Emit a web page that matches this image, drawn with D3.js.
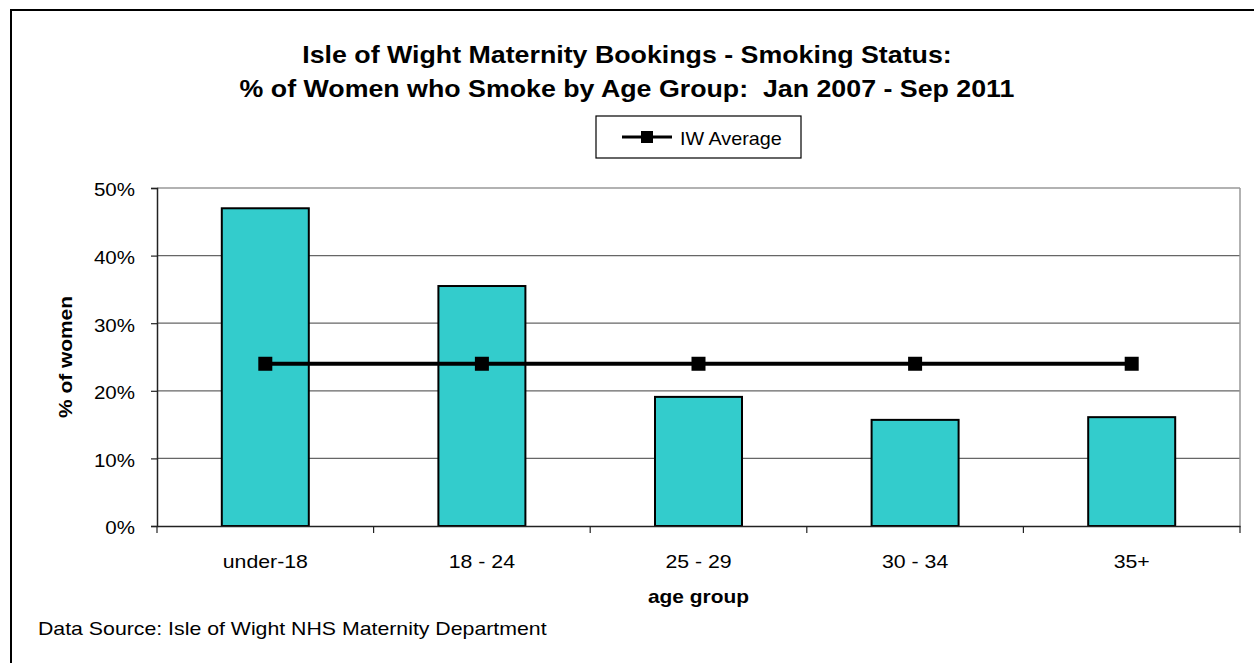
<!DOCTYPE html>
<html lang="en">
<head>
<meta charset="UTF-8">
<script src="https://d3js.org/d3.v7.min.js"></script>
<title>Isle of Wight Maternity Bookings</title>
<style>
  body { margin: 0; background: #fff; }
  svg { display: block; font-family: Arial, "Liberation Sans", sans-serif; }
</style>
</head>
<body>
<svg id="chart" width="1254" height="663"></svg>
<script>
const ageGroups = ["under-18", "18 - 24", "25 - 29", "30 - 34", "35+"];
const smokePct = [47.0, 35.5, 19.1, 15.7, 16.1];
const iwAverage = [24.0, 24.0, 24.0, 24.0, 24.0];
const yTicks = [0, 10, 20, 30, 40, 50];

const svg = d3.select("#chart");
const FONT = "Arial, 'Liberation Sans', sans-serif";

// the original export is a bit wider than normal Arial
function stretch(sel, f) {
  sel.each(function () {
    const w = this.getComputedTextLength();
    d3.select(this).attr("textLength", w * f).attr("lengthAdjust", "spacingAndGlyphs");
  });
}

// outer frame
svg.append("rect")
  .attr("x", 11).attr("y", 10)
  .attr("width", 1260).attr("height", 670)
  .attr("fill", "none").attr("stroke", "#000").attr("stroke-width", 2);

const plotL = 157, plotR = 1240, plotT = 188, plotB = 526;

const xb = d3.scaleBand().domain(ageGroups).range([plotL, plotR]);
const y = d3.scaleLinear().domain([0, 50]).range([plotB, plotT]);

// gridlines
svg.append("g").selectAll("line").data(yTicks.filter(d => d > 0)).join("line")
  .attr("x1", plotL).attr("x2", plotR)
  .attr("y1", d => y(d)).attr("y2", d => y(d))
  .attr("stroke", "#666").attr("stroke-width", 1.2);

// right border of plot
svg.append("line").attr("x1", plotR).attr("x2", plotR).attr("y1", plotT).attr("y2", plotB)
  .attr("stroke", "#999").attr("stroke-width", 1.5);

// bars
svg.append("g").selectAll("rect").data(smokePct).join("rect")
  .attr("x", (d, i) => xb(ageGroups[i]) + (xb.bandwidth() - 87) / 2)
  .attr("width", 87)
  .attr("y", d => y(d))
  .attr("height", d => y(0) - y(d))
  .attr("fill", "#33CCCC")
  .attr("stroke", "#000").attr("stroke-width", 2);

// y axis
const yAxis = svg.append("g")
  .attr("transform", `translate(${plotL},0)`)
  .call(d3.axisLeft(y).tickValues(yTicks).tickFormat(d => d + "%").tickSize(6).tickPadding(16));
yAxis.select(".domain").attr("stroke", "#222").attr("stroke-width", 1.5);
yAxis.selectAll(".tick line").attr("stroke", "#222").attr("stroke-width", 1.2);
yAxis.selectAll("text").attr("font-size", 19).attr("fill", "#000")
  .attr("font-family", FONT).attr("dy", "0.42em").call(stretch, 1.08);

// x axis
const xAxis = svg.append("g")
  .attr("transform", `translate(0,${plotB})`)
  .call(d3.axisBottom(xb).tickSize(0).tickPadding(0));
xAxis.select(".domain").attr("stroke", "#222").attr("stroke-width", 1.5);
xAxis.selectAll("text").attr("font-size", 19).attr("fill", "#000")
  .attr("font-family", FONT).attr("y", 42).attr("dy", null).call(stretch, 1.12);
// category separator ticks
svg.append("g").selectAll("line")
  .data(ageGroups.map(g => xb(g)).concat([plotR]))
  .join("line")
  .attr("x1", d => d).attr("x2", d => d)
  .attr("y1", plotB).attr("y2", plotB + 7)
  .attr("stroke", "#222").attr("stroke-width", 1.2);

// average line
const line = d3.line()
  .x((d, i) => xb(ageGroups[i]) + xb.bandwidth() / 2)
  .y(d => y(d));
svg.append("path").datum(iwAverage)
  .attr("d", line).attr("fill", "none")
  .attr("stroke", "#000").attr("stroke-width", 4);
svg.append("g").selectAll("rect").data(iwAverage).join("rect")
  .attr("x", (d, i) => xb(ageGroups[i]) + xb.bandwidth() / 2 - 7)
  .attr("y", d => y(d) - 7)
  .attr("width", 14).attr("height", 14)
  .attr("fill", "#000");

// titles
svg.append("text").attr("x", 627).attr("y", 63).attr("text-anchor", "middle")
  .attr("font-size", 24).attr("font-weight", "bold")
  .text("Isle of Wight Maternity Bookings - Smoking Status:")
  .call(stretch, 1.115);
svg.append("text").attr("x", 627).attr("y", 97).attr("text-anchor", "middle")
  .attr("font-size", 24).attr("font-weight", "bold")
  .style("white-space", "pre")
  .text("% of Women who Smoke by Age Group:  Jan 2007 - Sep 2011")
  .call(stretch, 1.115);

// legend
svg.append("rect").attr("x", 596).attr("y", 116).attr("width", 205).attr("height", 42)
  .attr("fill", "#fff").attr("stroke", "#000").attr("stroke-width", 1.2);
svg.append("line").attr("x1", 622).attr("x2", 672).attr("y1", 137).attr("y2", 137)
  .attr("stroke", "#000").attr("stroke-width", 3);
svg.append("rect").attr("x", 641).attr("y", 131).attr("width", 12).attr("height", 12).attr("fill", "#000");
svg.append("text").attr("x", 680).attr("y", 145).attr("font-size", 19).text("IW Average")
  .call(stretch, 1.04);

// axis titles
svg.append("text")
  .attr("transform", `translate(72,${(plotT + plotB) / 2}) rotate(-90)`)
  .attr("text-anchor", "middle").attr("font-size", 19).attr("font-weight", "bold")
  .text("% of women").call(stretch, 1.1);
svg.append("text").attr("x", (plotL + plotR) / 2).attr("y", 603).attr("text-anchor", "middle")
  .attr("font-size", 19).attr("font-weight", "bold").text("age group").call(stretch, 1.1);

// source
svg.append("text").attr("x", 38).attr("y", 635).attr("font-size", 19)
  .text("Data Source: Isle of Wight NHS Maternity Department").call(stretch, 1.12);
</script>
</body>
</html>
